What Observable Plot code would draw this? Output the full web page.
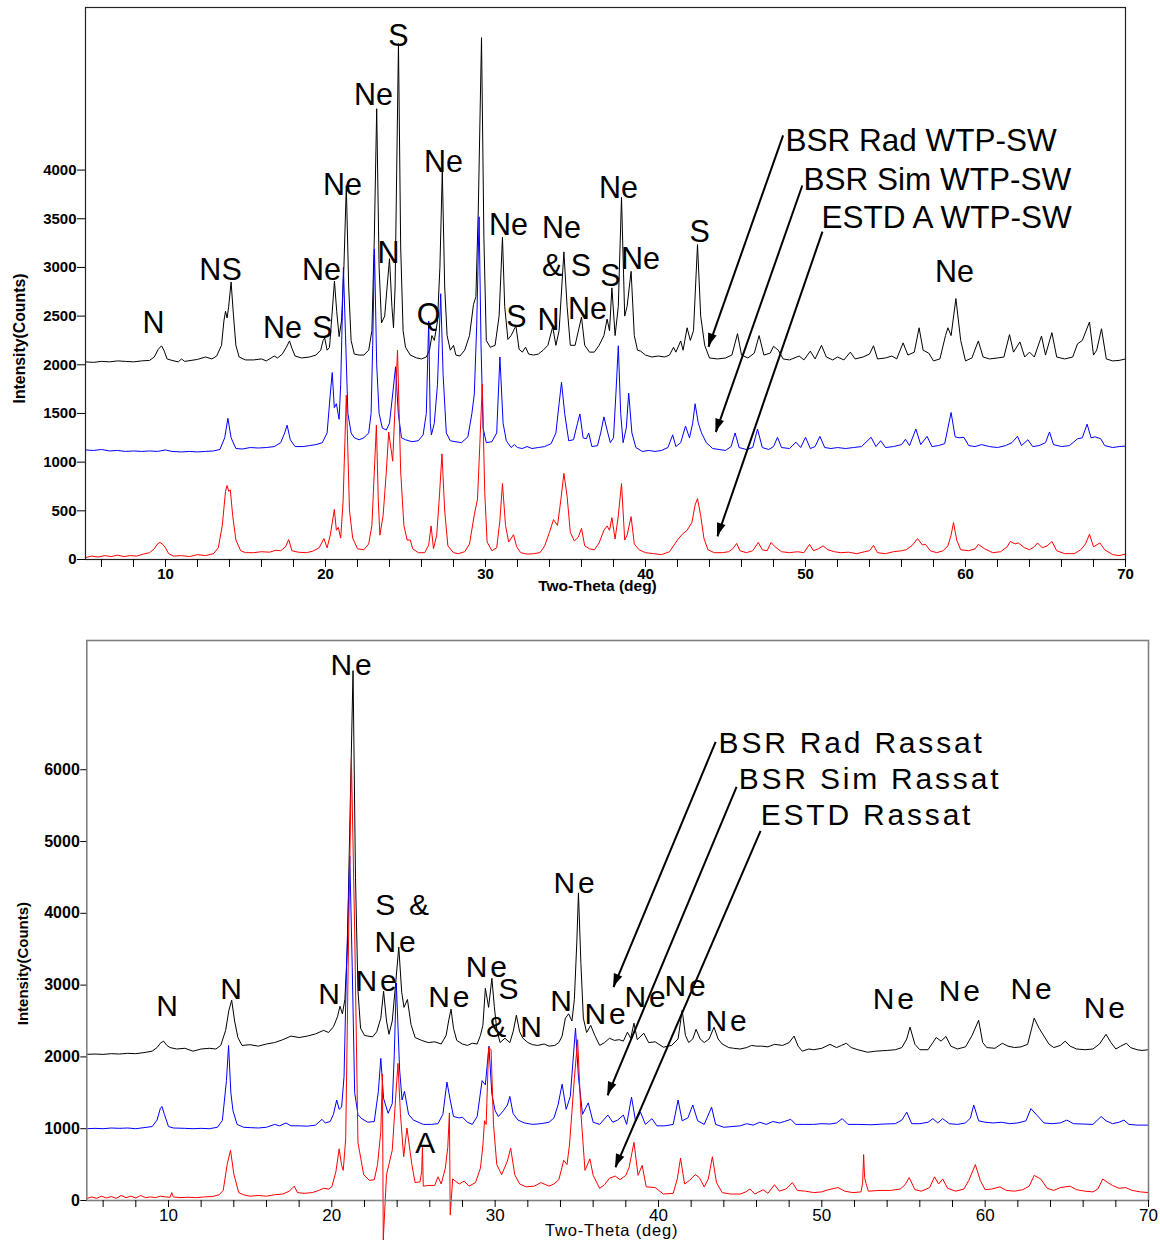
<!DOCTYPE html>
<html><head><meta charset="utf-8">
<script src="https://cdn.jsdelivr.net/npm/d3@7"></script>
<script src="https://cdn.jsdelivr.net/npm/@observablehq/plot@0.6"></script>
<style>
body{margin:0;background:#fff;}
#chart{width:1160px;}
#chart svg{display:block;}
g[font-family="Liberation Sans, Arimo, Arial"]{letter-spacing:2.8px;}
g[font-family="Liberation Sans, Arimo, Arial, sans-serif"]{letter-spacing:0.8px;}
</style></head><body><div id="chart"></div>
<script>
// ---------- DATA (2-theta in degrees, intensity in counts) ----------
const topBlack = [[5.0,2030],[5.5,2025],[6.0,2035],[6.5,2030],[7.0,2040],[7.5,2035],[8.0,2030],[8.5,2040],[9.0,2045],[9.3,2080],[9.55,2160],[9.75,2195],[9.9,2150],[10.1,2060],[10.4,2045],[10.8,2030],[11.0,2060],[11.2,2035],[11.6,2045],[12.0,2055],[12.5,2080],[12.9,2060],[13.2,2090],[13.5,2200],[13.65,2450],[13.75,2550],[13.85,2480],[13.95,2600],[14.1,2850],[14.25,2500],[14.4,2200],[14.6,2080],[15.0,2050],[15.5,2050],[16.0,2060],[16.3,2040],[16.6,2070],[16.8,2090],[17.0,2070],[17.3,2110],[17.55,2180],[17.75,2245],[17.9,2170],[18.1,2090],[18.5,2070],[19.0,2080],[19.4,2100],[19.7,2150],[19.85,2250],[19.95,2275],[20.1,2150],[20.25,2180],[20.4,2500],[20.56,2860],[20.7,2550],[20.85,2290],[21.0,2450],[21.15,3000],[21.3,3840],[21.45,2800],[21.6,2250],[21.8,2110],[22.1,2100],[22.4,2100],[22.7,2150],[22.9,2350],[23.05,3300],[23.2,4630],[23.35,3000],[23.5,2430],[23.7,2500],[23.85,2800],[24.0,3090],[24.15,2600],[24.25,2380],[24.35,2800],[24.56,5300],[24.7,3200],[24.85,2350],[25.0,2180],[25.3,2100],[25.7,2070],[26.0,2060],[26.3,2080],[26.5,2150],[26.65,2300],[26.8,2250],[27.0,2450],[27.15,3000],[27.3,3990],[27.45,2800],[27.6,2300],[27.8,2150],[28.0,2200],[28.15,2100],[28.4,2090],[28.7,2150],[29.0,2300],[29.25,2620],[29.4,2700],[29.55,3600],[29.75,5360],[29.9,3300],[30.05,2250],[30.3,2180],[30.6,2200],[30.85,2500],[31.06,3310],[31.2,2600],[31.4,2260],[31.6,2300],[31.9,2400],[32.1,2160],[32.3,2130],[32.5,2180],[32.7,2110],[33.0,2100],[33.3,2110],[33.6,2150],[33.9,2200],[34.2,2390],[34.4,2200],[34.6,2350],[34.9,3160],[35.1,2600],[35.3,2200],[35.6,2200],[36.0,2490],[36.2,2200],[36.5,2130],[36.8,2130],[37.1,2200],[37.4,2300],[37.6,2470],[37.75,2350],[37.9,2790],[38.1,2300],[38.3,2600],[38.5,3720],[38.7,2500],[38.85,2600],[39.1,2960],[39.3,2300],[39.5,2150],[39.7,2140],[40.0,2100],[40.4,2080],[40.8,2090],[41.2,2080],[41.5,2100],[41.75,2180],[41.9,2130],[42.2,2245],[42.35,2150],[42.6,2380],[42.8,2250],[43.0,2350],[43.25,3235],[43.45,2500],[43.7,2200],[44.0,2070],[44.5,2060],[45.0,2070],[45.4,2100],[45.75,2320],[46.0,2100],[46.4,2070],[46.8,2120],[47.1,2300],[47.4,2100],[47.8,2120],[48.0,2190],[48.3,2150],[48.6,2060],[49.0,2050],[49.6,2090],[49.9,2050],[50.3,2140],[50.6,2060],[51.0,2200],[51.3,2080],[51.7,2050],[52.0,2080],[52.4,2050],[52.8,2130],[53.1,2060],[53.6,2080],[54.0,2110],[54.25,2195],[54.5,2060],[55.0,2070],[55.4,2090],[55.7,2060],[56.1,2225],[56.4,2100],[56.8,2130],[57.1,2380],[57.35,2150],[57.7,2120],[58.0,2040],[58.4,2060],[58.75,2300],[58.9,2380],[59.1,2300],[59.4,2680],[59.7,2250],[60.0,2040],[60.4,2070],[60.8,2245],[61.1,2080],[61.5,2060],[62.0,2070],[62.4,2080],[62.75,2310],[63.0,2130],[63.4,2235],[63.7,2080],[64.0,2130],[64.3,2080],[64.75,2295],[65.0,2100],[65.4,2330],[65.7,2080],[66.2,2060],[66.7,2080],[67.0,2215],[67.3,2250],[67.75,2440],[68.0,2100],[68.2,2150],[68.5,2370],[68.8,2060],[69.2,2040],[69.6,2045],[70.0,2060]];

const topBlue = [[5.0,1125],[5.5,1120],[6.0,1130],[6.5,1115],[7.0,1120],[7.5,1110],[8.0,1115],[8.5,1110],[9.0,1115],[9.5,1110],[10.0,1125],[10.4,1110],[11.0,1105],[11.5,1110],[12.0,1105],[12.5,1110],[13.0,1115],[13.4,1130],[13.7,1250],[13.9,1450],[14.1,1250],[14.4,1140],[14.8,1135],[15.3,1150],[15.8,1145],[16.3,1150],[16.8,1160],[17.2,1200],[17.45,1300],[17.6,1380],[17.8,1230],[18.1,1160],[18.6,1160],[19.0,1170],[19.4,1180],[19.8,1200],[20.1,1300],[20.3,1700],[20.42,1920],[20.55,1560],[20.68,1600],[20.85,1440],[20.95,1800],[21.05,2500],[21.12,3000],[21.25,2300],[21.4,1500],[21.6,1300],[21.8,1250],[22.1,1230],[22.4,1250],[22.7,1300],[22.85,1500],[22.95,2200],[23.06,3190],[23.2,2000],[23.35,1500],[23.55,1350],[23.8,1330],[24.0,1400],[24.2,1700],[24.38,1980],[24.55,1500],[24.75,1250],[25.0,1230],[25.4,1210],[25.8,1220],[26.1,1280],[26.3,1500],[26.45,2450],[26.55,1400],[26.62,1280],[26.8,1400],[27.0,1800],[27.2,2730],[27.35,1900],[27.55,1300],[27.8,1220],[28.1,1210],[28.5,1200],[28.9,1260],[29.15,1500],[29.3,1700],[29.45,2400],[29.6,3520],[29.72,2200],[29.85,1350],[30.05,1200],[30.4,1210],[30.7,1300],[30.9,2080],[31.1,1400],[31.3,1220],[31.6,1150],[31.8,1180],[32.0,1150],[32.3,1140],[32.6,1160],[32.9,1140],[33.3,1150],[33.7,1160],[34.1,1190],[34.4,1300],[34.6,1600],[34.75,1820],[34.95,1500],[35.2,1220],[35.5,1230],[35.75,1400],[35.9,1495],[36.1,1250],[36.3,1240],[36.45,1300],[36.65,1160],[37.0,1170],[37.2,1300],[37.4,1465],[37.6,1330],[37.8,1200],[38.0,1250],[38.15,1700],[38.3,2195],[38.45,1500],[38.6,1200],[38.8,1350],[38.95,1710],[39.15,1300],[39.4,1150],[39.8,1110],[40.2,1120],[40.6,1110],[41.0,1120],[41.4,1150],[41.7,1280],[41.9,1160],[42.2,1200],[42.5,1370],[42.75,1250],[42.95,1400],[43.1,1600],[43.3,1400],[43.5,1300],[43.8,1200],[44.2,1140],[44.6,1130],[45.0,1120],[45.35,1160],[45.6,1300],[45.85,1150],[46.3,1130],[46.7,1150],[47.0,1340],[47.3,1150],[47.7,1130],[48.0,1160],[48.25,1255],[48.5,1150],[49.0,1140],[49.4,1205],[49.7,1150],[50.0,1255],[50.3,1140],[50.6,1160],[50.9,1265],[51.2,1150],[51.6,1140],[52.0,1150],[52.5,1140],[53.0,1150],[53.5,1160],[54.1,1255],[54.4,1160],[54.7,1220],[55.0,1150],[55.5,1160],[56.0,1180],[56.25,1235],[56.5,1170],[56.9,1340],[57.2,1180],[57.6,1265],[57.9,1160],[58.3,1170],[58.7,1190],[58.9,1350],[59.1,1510],[59.35,1260],[59.6,1250],[59.9,1255],[60.2,1170],[60.6,1160],[61.0,1180],[61.5,1160],[62.0,1150],[62.5,1170],[62.9,1200],[63.25,1265],[63.5,1170],[63.9,1230],[64.2,1160],[64.6,1170],[65.0,1200],[65.25,1310],[65.5,1180],[66.0,1160],[66.5,1170],[67.0,1240],[67.3,1250],[67.6,1390],[67.85,1250],[68.1,1260],[68.45,1240],[68.7,1170],[69.2,1150],[69.6,1160],[70.0,1165]];

const topRed = [[5.0,20],[5.4,35],[5.8,25],[6.2,40],[6.6,30],[7.0,45],[7.4,30],[7.8,40],[8.2,35],[8.6,55],[9.0,70],[9.3,110],[9.5,160],[9.65,175],[9.8,160],[10.0,120],[10.2,60],[10.5,35],[11.0,40],[11.5,30],[12.0,50],[12.5,40],[13.0,60],[13.3,120],[13.55,350],[13.75,700],[13.85,760],[13.95,700],[14.05,715],[14.2,450],[14.4,200],[14.7,90],[15.0,70],[15.5,70],[16.0,80],[16.5,75],[16.9,95],[17.2,90],[17.5,130],[17.7,205],[17.9,90],[18.3,75],[18.8,70],[19.2,85],[19.6,120],[19.9,215],[20.1,120],[20.3,250],[20.55,515],[20.68,300],[20.8,330],[20.95,220],[21.1,600],[21.3,1690],[21.5,500],[21.7,220],[22.0,110],[22.4,100],[22.7,160],[22.9,350],[23.05,900],[23.18,1380],[23.3,600],[23.4,250],[23.6,450],[23.8,900],[23.95,1310],[24.2,1010],[24.5,2150],[24.7,900],[24.9,350],[25.1,200],[25.3,200],[25.45,110],[25.8,70],[26.2,70],[26.45,150],[26.6,345],[26.75,110],[26.95,250],[27.1,600],[27.28,1085],[27.45,500],[27.65,140],[28.0,70],[28.3,60],[28.7,80],[29.0,160],[29.3,460],[29.5,620],[29.65,1200],[29.8,1800],[29.95,700],[30.1,180],[30.4,90],[30.7,120],[30.9,400],[31.06,780],[31.25,350],[31.45,180],[31.75,255],[31.95,130],[32.2,70],[32.6,55],[33.0,60],[33.4,70],[33.7,140],[34.0,280],[34.25,410],[34.5,350],[34.7,600],[34.9,885],[35.1,650],[35.3,280],[35.55,190],[35.8,230],[36.0,320],[36.2,140],[36.5,110],[36.8,100],[37.1,170],[37.4,300],[37.6,345],[37.75,300],[37.9,430],[38.1,210],[38.3,450],[38.5,780],[38.7,200],[38.85,250],[39.1,440],[39.3,160],[39.6,100],[40.0,70],[40.5,60],[41.0,50],[41.5,80],[42.0,200],[42.3,260],[42.6,300],[42.9,380],[43.1,560],[43.25,625],[43.45,450],[43.65,220],[43.9,100],[44.3,70],[44.8,70],[45.2,80],[45.45,110],[45.7,165],[45.9,90],[46.3,70],[46.7,90],[47.05,175],[47.3,100],[47.6,90],[47.85,175],[48.1,130],[48.5,80],[49.0,70],[49.5,80],[49.9,70],[50.25,155],[50.5,90],[50.8,110],[51.1,140],[51.4,100],[51.8,80],[52.2,70],[52.7,75],[53.2,60],[53.7,80],[54.0,90],[54.25,145],[54.5,70],[55.0,60],[55.5,80],[56.0,90],[56.3,100],[56.7,150],[57.0,215],[57.3,150],[57.5,155],[57.8,90],[58.2,70],[58.6,90],[58.9,140],[59.1,250],[59.25,380],[59.45,200],[59.7,100],[60.2,90],[60.6,110],[60.8,155],[61.2,110],[61.7,70],[62.2,80],[62.6,130],[62.8,185],[63.1,160],[63.3,170],[63.7,120],[64.0,100],[64.3,130],[64.5,170],[64.8,120],[65.1,140],[65.4,185],[65.7,90],[66.2,60],[66.8,60],[67.2,100],[67.5,160],[67.75,260],[68.0,130],[68.4,170],[68.7,100],[69.2,50],[69.6,40],[70.0,55]];

const botBlack = [[5.0,2036],[5.5,2040],[6.0,2035],[6.5,2045],[7.0,2040],[7.5,2050],[8.0,2045],[8.5,2060],[9.0,2080],[9.3,2130],[9.5,2190],[9.7,2220],[9.9,2160],[10.1,2130],[10.5,2110],[11.0,2120],[11.5,2080],[12.0,2110],[12.5,2120],[12.9,2110],[13.2,2160],[13.5,2370],[13.7,2650],[13.87,2790],[14.05,2500],[14.25,2270],[14.5,2160],[15.0,2170],[15.5,2150],[16.0,2180],[16.5,2200],[17.0,2240],[17.5,2290],[18.0,2270],[18.5,2290],[19.0,2320],[19.5,2370],[19.8,2340],[20.1,2420],[20.35,2560],[20.5,2706],[20.65,2600],[20.8,2800],[20.95,3500],[21.1,5200],[21.3,7380],[21.45,4500],[21.6,2930],[21.76,2400],[22.0,2300],[22.2,2290],[22.5,2280],[22.75,2350],[23.0,2540],[23.17,2915],[23.35,2500],[23.5,2315],[23.7,2500],[23.9,3000],[24.1,3530],[24.28,2900],[24.42,2690],[24.63,2800],[24.85,2450],[25.1,2270],[25.5,2230],[25.9,2200],[26.3,2210],[26.7,2180],[27.0,2300],[27.15,2500],[27.3,2665],[27.45,2400],[27.65,2230],[28.0,2180],[28.3,2160],[28.6,2190],[28.9,2180],[29.1,2300],[29.25,2440],[29.4,2955],[29.6,2690],[29.8,3095],[29.95,2700],[30.1,2385],[30.3,2200],[30.6,2260],[30.9,2200],[31.1,2350],[31.3,2580],[31.5,2350],[31.7,2260],[32.0,2200],[32.3,2170],[32.6,2160],[33.0,2180],[33.3,2150],[33.65,2160],[33.9,2200],[34.1,2290],[34.3,2540],[34.5,2600],[34.7,2500],[34.85,2800],[35.0,3600],[35.1,4285],[35.25,3300],[35.4,2540],[35.6,2340],[35.85,2440],[36.1,2300],[36.4,2160],[36.7,2200],[37.0,2260],[37.3,2230],[37.6,2240],[37.85,2220],[38.1,2345],[38.3,2260],[38.5,2470],[38.7,2240],[39.1,2330],[39.4,2200],[39.8,2210],[40.3,2135],[40.8,2160],[41.2,2250],[41.45,2650],[41.65,2300],[41.85,2200],[42.1,2250],[42.3,2385],[42.55,2250],[42.8,2200],[43.1,2250],[43.4,2415],[43.65,2250],[43.9,2180],[44.3,2130],[44.6,2120],[45.0,2110],[45.4,2130],[45.7,2160],[46.0,2150],[46.3,2150],[46.7,2140],[47.1,2175],[47.6,2160],[48.0,2200],[48.3,2290],[48.55,2150],[48.8,2080],[49.2,2110],[49.5,2100],[50.0,2120],[50.5,2175],[50.9,2130],[51.2,2160],[51.5,2190],[51.8,2130],[52.2,2100],[52.8,2065],[53.3,2080],[54.0,2090],[54.5,2100],[54.9,2130],[55.2,2250],[55.4,2415],[55.7,2175],[56.0,2100],[56.5,2100],[56.8,2200],[57.0,2270],[57.3,2220],[57.6,2285],[57.9,2150],[58.3,2110],[58.8,2140],[59.2,2300],[59.6,2510],[59.85,2200],[60.1,2130],[60.6,2120],[61.05,2190],[61.4,2150],[61.8,2130],[62.2,2140],[62.6,2175],[62.85,2400],[63.0,2540],[63.3,2400],[63.6,2290],[63.9,2180],[64.2,2130],[64.6,2160],[64.9,2220],[65.2,2150],[65.6,2110],[66.1,2100],[66.6,2110],[67.0,2180],[67.4,2315],[67.7,2200],[68.0,2110],[68.3,2150],[68.65,2190],[68.9,2130],[69.3,2100],[69.6,2090],[70.0,2100]];

const botBlue = [[5.0,1000],[5.5,1005],[6.0,1000],[6.5,1010],[7.0,1005],[7.5,1010],[8.0,1000],[8.5,1015],[9.0,1030],[9.3,1120],[9.5,1280],[9.6,1310],[9.75,1200],[10.0,1030],[10.3,1010],[11.0,1005],[11.5,1000],[12.0,1005],[12.5,1000],[13.0,1020],[13.3,1115],[13.55,1670],[13.68,2160],[13.82,1500],[13.95,1250],[14.2,1060],[14.6,1020],[15.0,1015],[15.5,1010],[16.0,1020],[16.5,1060],[16.8,1040],[17.2,1080],[17.5,1040],[18.0,1040],[18.5,1035],[19.0,1050],[19.4,1130],[19.6,1080],[19.9,1100],[20.1,1200],[20.3,1400],[20.45,1270],[20.6,1300],[20.75,1730],[20.9,3250],[21.1,4800],[21.25,3250],[21.4,1500],[21.6,1200],[21.8,1145],[22.2,1090],[22.6,1100],[22.85,1520],[23.0,1980],[23.17,1420],[23.45,1215],[23.7,1350],[23.82,2000],[23.95,3030],[24.15,1830],[24.3,1400],[24.45,1520],[24.7,1200],[25.0,1120],[25.6,1060],[26.1,1060],[26.5,1070],[26.8,1200],[27.05,1650],[27.25,1400],[27.45,1170],[27.8,1150],[28.0,1160],[28.3,1090],[28.6,1060],[28.9,1170],[29.2,1670],[29.4,1610],[29.62,2150],[29.8,1480],[30.0,1250],[30.2,1170],[30.5,1250],[30.75,1330],[30.9,1450],[31.1,1210],[31.4,1120],[31.8,1080],[32.3,1060],[32.8,1070],[33.3,1090],[33.6,1150],[33.85,1330],[34.1,1620],[34.35,1270],[34.6,1450],[34.92,2400],[35.1,1720],[35.35,1200],[35.7,1360],[36.0,1090],[36.4,1060],[36.9,1190],[37.2,1090],[37.5,1120],[37.85,1190],[38.05,1060],[38.35,1440],[38.6,1100],[38.9,1230],[39.2,1060],[39.6,1140],[39.9,1040],[40.4,1040],[40.9,1060],[41.2,1400],[41.45,1110],[41.8,1150],[42.1,1330],[42.4,1110],[42.8,1060],[43.25,1300],[43.5,1060],[44.0,1020],[44.5,1030],[45.0,1040],[45.4,1070],[45.8,1050],[46.2,1090],[46.6,1060],[47.0,1100],[47.4,1080],[47.7,1100],[48.1,1130],[48.4,1060],[48.9,1060],[49.5,1060],[50.0,1070],[50.5,1065],[50.9,1080],[51.25,1140],[51.6,1060],[52.2,1060],[53.0,1055],[53.8,1065],[54.5,1070],[54.9,1120],[55.2,1230],[55.5,1070],[56.0,1070],[56.5,1090],[56.8,1140],[57.1,1080],[57.4,1140],[57.8,1070],[58.3,1060],[58.8,1080],[59.1,1150],[59.3,1330],[59.6,1110],[60.0,1090],[60.5,1080],[61.0,1090],[61.5,1070],[62.0,1080],[62.5,1110],[62.8,1280],[63.2,1180],[63.6,1080],[64.1,1070],[64.6,1080],[65.0,1120],[65.4,1070],[66.0,1065],[66.6,1060],[67.1,1170],[67.4,1110],[67.8,1070],[68.2,1090],[68.5,1120],[68.8,1060],[69.3,1050],[70.0,1050]];

const botRed = [[5.0,28],[5.3,50],[5.6,30],[5.9,60],[6.2,35],[6.5,55],[6.8,30],[7.1,70],[7.4,40],[7.7,60],[8.0,35],[8.3,70],[8.6,40],[8.9,50],[9.2,40],[9.5,60],[9.8,50],[10.1,45],[10.2,110],[10.3,50],[10.7,40],[11.2,45],[11.7,40],[12.2,50],[12.7,55],[13.1,80],[13.35,140],[13.6,510],[13.8,700],[14.0,370],[14.3,110],[14.6,80],[15.0,60],[15.5,70],[16.0,60],[16.5,80],[17.0,90],[17.4,130],[17.7,200],[17.9,110],[18.3,100],[18.8,110],[19.2,140],[19.5,170],[19.8,160],[20.0,190],[20.25,400],[20.45,720],[20.6,490],[20.7,420],[20.85,860],[21.0,3250],[21.2,6150],[21.4,3750],[21.6,810],[21.95,360],[22.3,280],[22.6,290],[22.8,500],[23.0,960],[23.1,1760],[23.15,-550],[23.35,360],[23.7,700],[23.9,1400],[24.05,1910],[24.2,1210],[24.4,610],[24.6,1010],[24.9,500],[25.1,250],[25.4,260],[25.5,400],[25.55,740],[25.6,200],[25.9,210],[26.3,210],[26.5,330],[26.7,230],[26.95,450],[27.1,740],[27.2,1220],[27.25,-200],[27.4,300],[27.8,230],[28.1,270],[28.4,200],[28.8,250],[29.1,450],[29.25,770],[29.35,1110],[29.45,1060],[29.6,2130],[29.75,2100],[29.9,1060],[30.1,500],[30.4,360],[30.75,550],[30.95,730],[31.2,360],[31.5,230],[31.9,190],[32.4,200],[32.8,250],[33.3,200],[33.6,230],[33.9,290],[34.2,560],[34.4,500],[34.55,770],[34.85,1700],[35.05,2240],[35.25,1220],[35.5,420],[35.8,580],[36.0,350],[36.4,170],[36.7,220],[37.0,310],[37.35,340],[37.65,290],[38.0,350],[38.2,460],[38.5,810],[38.75,350],[39.0,490],[39.25,190],[39.8,180],[40.3,90],[40.9,100],[41.15,300],[41.35,590],[41.6,230],[41.9,280],[42.25,360],[42.5,320],[42.8,190],[43.05,300],[43.3,610],[43.55,250],[43.9,110],[44.4,90],[45.0,90],[45.35,120],[45.6,160],[45.9,90],[46.4,150],[46.7,100],[47.1,220],[47.4,130],[47.8,160],[48.2,250],[48.5,140],[49.0,130],[49.5,110],[50.0,120],[50.4,150],[51.0,180],[51.4,130],[51.9,110],[52.4,120],[52.5,250],[52.56,640],[52.62,320],[52.7,240],[52.85,130],[53.5,140],[54.2,140],[54.8,160],[55.1,220],[55.35,320],[55.7,150],[56.1,130],[56.6,180],[56.9,330],[57.15,230],[57.4,300],[57.7,170],[58.2,130],[58.7,160],[59.0,280],[59.4,500],[59.7,280],[60.0,150],[60.4,160],[60.9,190],[61.3,140],[61.8,130],[62.3,150],[62.7,200],[63.0,350],[63.4,300],[63.8,170],[64.2,140],[64.6,180],[65.2,200],[65.6,150],[66.1,130],[66.6,120],[66.9,160],[67.2,300],[67.5,250],[67.8,210],[68.2,170],[68.6,180],[69.0,140],[69.5,120],[70.0,110]];

// peak phase labels (text, 2-theta, intensity)
const topLabels = [["N",9.25,2462],["NS",13.44,2997],["Ne",17.31,2410],["S",19.81,2410],["Ne",19.75,2997],["Ne",21.06,3873],["Ne",23.0,4800],["N",23.94,3172],["S",24.56,5408],["Q",26.44,2544],["Ne",27.38,4110],["Ne",31.44,3461],["S",31.94,2524],["Ne",34.75,3430],["& S",35.06,3039],["N",33.94,2493],["Ne",36.38,2606],["S",37.81,2936],["Ne",38.31,3842],["Ne",39.69,3111],["S",43.38,3389],["Ne",59.31,2977]];
const botLabels = [["N",10.0,2720],["N",13.92,2957],["N",19.92,2888],["Ne",21.27,7463],["Ne",22.8,3069],["S &",24.39,4129],["Ne",23.96,3613],["Ne",27.25,2846],["A",25.8,809],["Ne",29.54,3264],["S",30.9,2957],["& N",31.25,2427],["N",34.13,2790],["Ne",34.92,4436],["Ne",36.82,2609],["Ne",39.27,2846],["Ne",41.72,2999],["Ne",44.23,2511],["Ne",54.46,2818],["Ne",58.5,2929],["Ne",62.9,2957],["Ne",67.38,2692]];

// series names (legend text) and arrow pointers [x1,y1,x2,y2]
const topSeries = ["BSR Rad WTP-SW","BSR Sim WTP-SW","ESTD A WTP-SW"];
const topSeriesPos = [[48.75,4326],[49.88,3935],[51.0,3543]];
const topArrows = [[48.6,4357,43.94,2184],[49.8,3842,44.4,1308],[51.06,3368,44.5,237]];
const botSeries = ["BSR Rad Rassat","BSR Sim Rassat","ESTD Rassat"];
const botSeriesPos = [[43.68,6375],[44.91,5873],[46.26,5371]];
const botArrows = [[43.5,6389,37.25,2971],[44.78,5761,36.89,1465],[46.25,5148,37.37,460]];

const xTicks = d3.range(6, 71, 2);
const topYTicks = d3.range(0, 4001, 500);
const botYTicks = d3.range(0, 6001, 1000);
const colors = ["#000000", "#0000ff", "#ff0000"];

// ---------- DRAWING ----------
const FONT = "'Liberation Sans', Arial, Helvetica, sans-serif";
const WIDE = "Liberation Sans, Arimo, Arial";               // bottom panel labels (spaced)
const WIDE2 = "Liberation Sans, Arimo, Arial, sans-serif";  // bottom axis title (slightly spaced)

function arrowHeads(arrows) {
  return Plot.dot(arrows, {
    x: d => d[2], y: d => d[3], r: 0, stroke: "none",
    render: (index, scales, values, dims, context) => {
      const g = d3.create("svg:g");
      for (const d of arrows) {
        const x1 = scales.x(d[0]), y1 = scales.y(d[1]), x2 = scales.x(d[2]), y2 = scales.y(d[3]);
        const a = Math.atan2(y2 - y1, x2 - x1), L = 13, W = 4.5;
        const bx = x2 - L * Math.cos(a), by = y2 - L * Math.sin(a);
        const px = -Math.sin(a) * W, py = Math.cos(a) * W;
        g.append("path").attr("d", `M${x2},${y2}L${bx + px},${by + py}L${bx - px},${by - py}Z`).attr("fill", "black");
      }
      return g.node();
    }
  });
}

function panel(o) {
  const xy = {x: d => d[0], y: d => d[1]};
  return Plot.plot({
    width: 1160, height: o.height,
    marginLeft: o.ml, marginRight: o.mr, marginTop: o.mt, marginBottom: o.mb,
    style: {fontFamily: FONT, background: "white", color: "black"},
    x: {domain: [5, 70]},
    y: {domain: o.yDomain},
    marks: [
      Plot.line(o.black, {...xy, stroke: colors[0], strokeWidth: 1}),
      Plot.line(o.blue, {...xy, stroke: colors[1], strokeWidth: 1}),
      Plot.line(o.red, {...xy, stroke: colors[2], strokeWidth: 1}),
      Plot.frame({stroke: o.frameColor, strokeWidth: o.frameWidth}),
      Plot.axisY({ticks: o.yTicks, tickSize: o.yTickSize, tickPadding: 1, tickFormat: d => String(d), fontSize: o.yTickFont, fontWeight: "bold", label: null}),
      Plot.axisX({ticks: xTicks, tickSize: o.xTickSize, tickPadding: 1, tickFormat: d => d % 10 === 0 ? String(d) : "", fontSize: o.xTickFont, fontWeight: o.xTickWeight, label: null}),
      Plot.text(["Two-Theta (deg)"], {frameAnchor: "bottom", dx: o.xlDx, dy: o.xlDy, fontSize: o.xlFont, fontWeight: o.xlWeight, lineAnchor: "middle", fontFamily: o.xlFamily}),
      Plot.text(["Intensity(Counts)"], {frameAnchor: "left", y: [o.ylY], dx: o.ylDx, rotate: -90, fontSize: o.ylFont, fontWeight: "bold", lineAnchor: "middle", textAnchor: "middle"}),
      Plot.text(o.labels, {x: d => d[1], y: d => d[2], text: d => d[0], dy: o.labelDy, fontSize: o.labelFont, lineAnchor: "middle", textAnchor: "middle", fill: "black", fontFamily: o.labelFamily}),
      Plot.text(o.series, {x: (d, i) => o.seriesPos[i][0], y: (d, i) => o.seriesPos[i][1], text: d => d, dy: o.labelDy, fontSize: o.legendFont, lineAnchor: "middle", textAnchor: "start", fill: "black", fontFamily: o.labelFamily}),
      Plot.link(o.arrows, {x1: d => d[0], y1: d => d[1], x2: d => d[2], y2: d => d[3], stroke: "black", strokeWidth: 2}),
      arrowHeads(o.arrows)
    ]
  });
}

const topPlot = panel({
  height: 600, ml: 85, mr: 35, mt: 7, mb: 41, yDomain: [0, 5670],
  black: topBlack, blue: topBlue, red: topRed,
  frameColor: "#222", frameWidth: 1.2,
  yTicks: topYTicks, yTickSize: 8, yTickFont: 15, xTickSize: 8, xTickFont: 15, xTickWeight: "bold",
  xlDx: -8, xlDy: 27, xlFont: 15.5, xlWeight: "bold", xlFamily: FONT,
  ylDx: -66, ylY: 2270, ylFont: 15.8,
  labels: topLabels, labelDy: 3, labelFont: 30.5, labelFamily: FONT,
  series: topSeries, seriesPos: topSeriesPos, legendFont: 31.5, arrows: topArrows
});
const botPlot = panel({
  height: 641, ml: 86.3, mr: 12, mt: 40, mb: 41, yDomain: [0, 7800],
  black: botBlack, blue: botBlue, red: botRed,
  frameColor: "#808080", frameWidth: 1.6,
  yTicks: botYTicks, yTickSize: 6, yTickFont: 16, xTickSize: 7, xTickFont: 17, xTickWeight: "normal",
  xlDx: -6, xlDy: 30, xlFont: 16.5, xlWeight: "normal", xlFamily: WIDE2,
  ylDx: -64, ylY: 3300, ylFont: 15,
  labels: botLabels, labelDy: 1, labelFont: 30, labelFamily: WIDE,
  series: botSeries, seriesPos: botSeriesPos, legendFont: 30, arrows: botArrows
});
document.getElementById("chart").append(topPlot, botPlot);
</script>
</body></html>
